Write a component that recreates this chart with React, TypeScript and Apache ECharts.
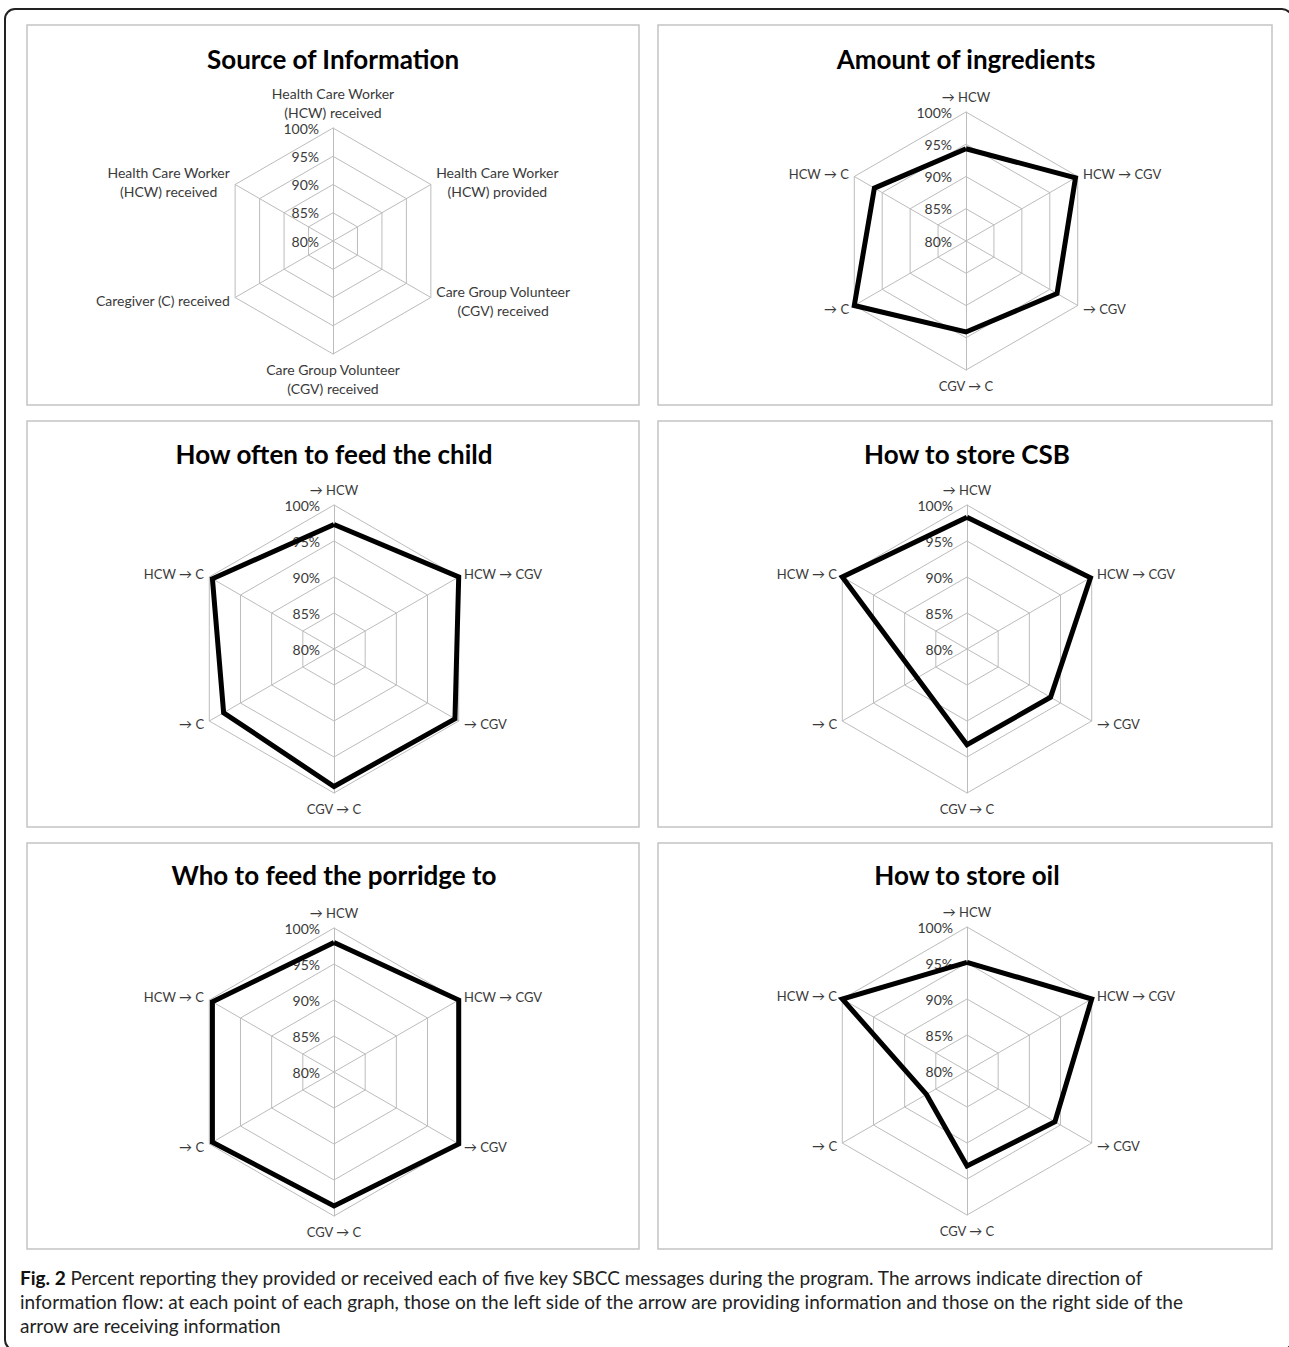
import React, { useEffect, useRef } from "react";
import * as echarts from "echarts";

// ---------- data ----------
const PANEL_TITLES = [
  "Source of Information",
  "Amount of ingredients",
  "How often to feed the child",
  "How to store CSB",
  "Who to feed the porridge to",
  "How to store oil",
];

// indicator order as drawn: top first, then going counter-clockwise
const SOURCE_LABELS = [
  "Health Care Worker\n(HCW) received",
  "Health Care Worker\n(HCW) received",
  "Caregiver (C) received",
  "Care Group Volunteer\n(CGV) received",
  "Care Group Volunteer\n(CGV) received",
  "Health Care Worker\n(HCW) provided",
];
const FLOW_LABELS = ["→ HCW", "HCW → C", "→ C", "CGV → C", "→ CGV", "HCW → CGV"];

const AXIS_MIN = 80;
const AXIS_MAX = 100;
const AXIS_SPLITS = 4; // 80%, 85%, 90%, 95%, 100%

const amountOfIngredients = [94.3, 96.4, 100, 94.1, 96.3, 99.6];
const howOftenToFeed = [97.3, 99.5, 97.7, 99.1, 99.4, 100];
const howToStoreCSB = [98.3, 100, 88, 93.3, 93.4, 99.8];
const whoToFeedPorridge = [98, 99.5, 99.5, 98.6, 100, 100];
const howToStoreOil = [95.1, 100, 86.5, 93.2, 94.1, 100];

const PANEL_SERIES: (number[] | null)[] = [
  null,
  amountOfIngredients,
  howOftenToFeed,
  howToStoreCSB,
  whoToFeedPorridge,
  howToStoreOil,
];

const CAPTION_BOLD = "Fig. 2";
const CAPTION_LINES = [
  " Percent reporting they provided or received each of five key SBCC messages during the program. The arrows indicate direction of",
  "information flow: at each point of each graph, those on the left side of the arrow are providing information and those on the right side of the",
  "arrow are receiving information",
];

// ---------- layout ----------
const PANELS = [
  { x: 27, y: 25, w: 612, h: 380, cx: 333, cy: 241, r: 113, ty: 60 },
  { x: 658, y: 25, w: 614, h: 380, cx: 966, cy: 241, r: 129, ty: 60 },
  { x: 27, y: 421, w: 612, h: 406, cx: 334, cy: 649, r: 144, ty: 455 },
  { x: 658, y: 421, w: 614, h: 406, cx: 967, cy: 649, r: 144, ty: 455 },
  { x: 27, y: 843, w: 612, h: 406, cx: 334, cy: 1072, r: 144, ty: 876 },
  { x: 658, y: 843, w: 614, h: 406, cx: 967, cy: 1071, r: 144, ty: 876 },
];

const FONT = "Lato, 'Open Sans', sans-serif";
const GRID = "#bcbcbc";
const LABEL = "#3a3a3a";

function buildOption() {
  const radar = PANELS.map((p, i) => {
    const labels = i === 0 ? SOURCE_LABELS : FLOW_LABELS;
    const nameSize = i === 0 ? 14 : 13;
    return {
      center: [p.cx, p.cy],
      radius: p.r,
      startAngle: 90,
      shape: "polygon",
      splitNumber: AXIS_SPLITS,
      axisNameGap: 6,
      indicator: labels.map((name, k) => ({
        name,
        min: AXIS_MIN,
        max: AXIS_MAX,
        ...(k === 0 ? { axisLabel: { show: true } } : {}),
      })),
      axisName: {
        color: LABEL,
        fontSize: nameSize,
        fontFamily: FONT,
        formatter: (name: string) =>
          name
            .split("\n")
            .map((s) => `{c|${s}}`)
            .join("\n"),
        rich: {
          c: { align: "center", color: LABEL, fontSize: nameSize, fontFamily: FONT, lineHeight: 19 },
        },
      },
      splitLine: { lineStyle: { color: GRID, width: 1 } },
      splitArea: { show: false },
      axisLine: { lineStyle: { color: GRID, width: 1 } },
      axisTick: { show: false },
      axisLabel: {
        show: false,
        formatter: "{value}%",
        color: LABEL,
        fontSize: 14,
        fontFamily: FONT,
        margin: 14,
      },
    };
  });

  const series: any[] = [];
  PANEL_SERIES.forEach((vals, i) => {
    if (!vals) return;
    series.push({
      type: "radar",
      radarIndex: i,
      symbol: "none",
      silent: true,
      lineStyle: { color: "#000", width: 5, join: "miter" },
      data: [{ value: vals, name: PANEL_TITLES[i] }],
    });
  });

  const title = PANELS.map((p, i) => ({
    text: PANEL_TITLES[i],
    left: p.cx,
    top: p.ty - 14,
    textAlign: "center",
    padding: 0,
    textStyle: { fontSize: 26, fontWeight: "bold", fontFamily: FONT, color: "#000" },
  }));

  const graphic: any[] = [
    {
      type: "rect",
      shape: { x: 5, y: 9, width: 1287, height: 1341, r: 10 },
      style: { fill: "none", stroke: "#222", lineWidth: 2 },
      silent: true,
      z: -10,
    },
    ...PANELS.map((p) => ({
      type: "rect",
      shape: { x: p.x, y: p.y, width: p.w, height: p.h },
      style: { fill: "#fff", stroke: "#c4c4c4", lineWidth: 1.5 },
      silent: true,
      z: -5,
    })),
    {
      type: "text",
      x: 20,
      y: 1265,
      silent: true,
      style: {
        text:
          `{b|${CAPTION_BOLD}}{n|${CAPTION_LINES[0]}}\n` +
          `{n|${CAPTION_LINES[1]}}\n{n|${CAPTION_LINES[2]}}`,
        rich: {
          b: { fontWeight: "bold", fontSize: 19, fontFamily: FONT, fill: "#111", lineHeight: 24 },
          n: { fontSize: 19, fontFamily: FONT, fill: "#222", lineHeight: 24 },
        },
      },
    },
  ];

  return {
    animation: false,
    backgroundColor: "#fff",
    title,
    radar,
    series,
    graphic,
  };
}

export default function App() {
  const ref = useRef<HTMLDivElement>(null);
  useEffect(() => {
    if (!ref.current) return;
    const chart = echarts.init(ref.current, undefined, { renderer: "svg" });
    chart.setOption(buildOption() as any);
    return () => chart.dispose();
  }, []);
  return (
    <div
      style={{
        position: "absolute",
        left: 0,
        top: 0,
        width: 1289,
        height: 1347,
        overflow: "hidden",
        background: "#fff",
      }}
    >
      <div ref={ref} style={{ width: 1289, height: 1347 }} />
    </div>
  );
}
